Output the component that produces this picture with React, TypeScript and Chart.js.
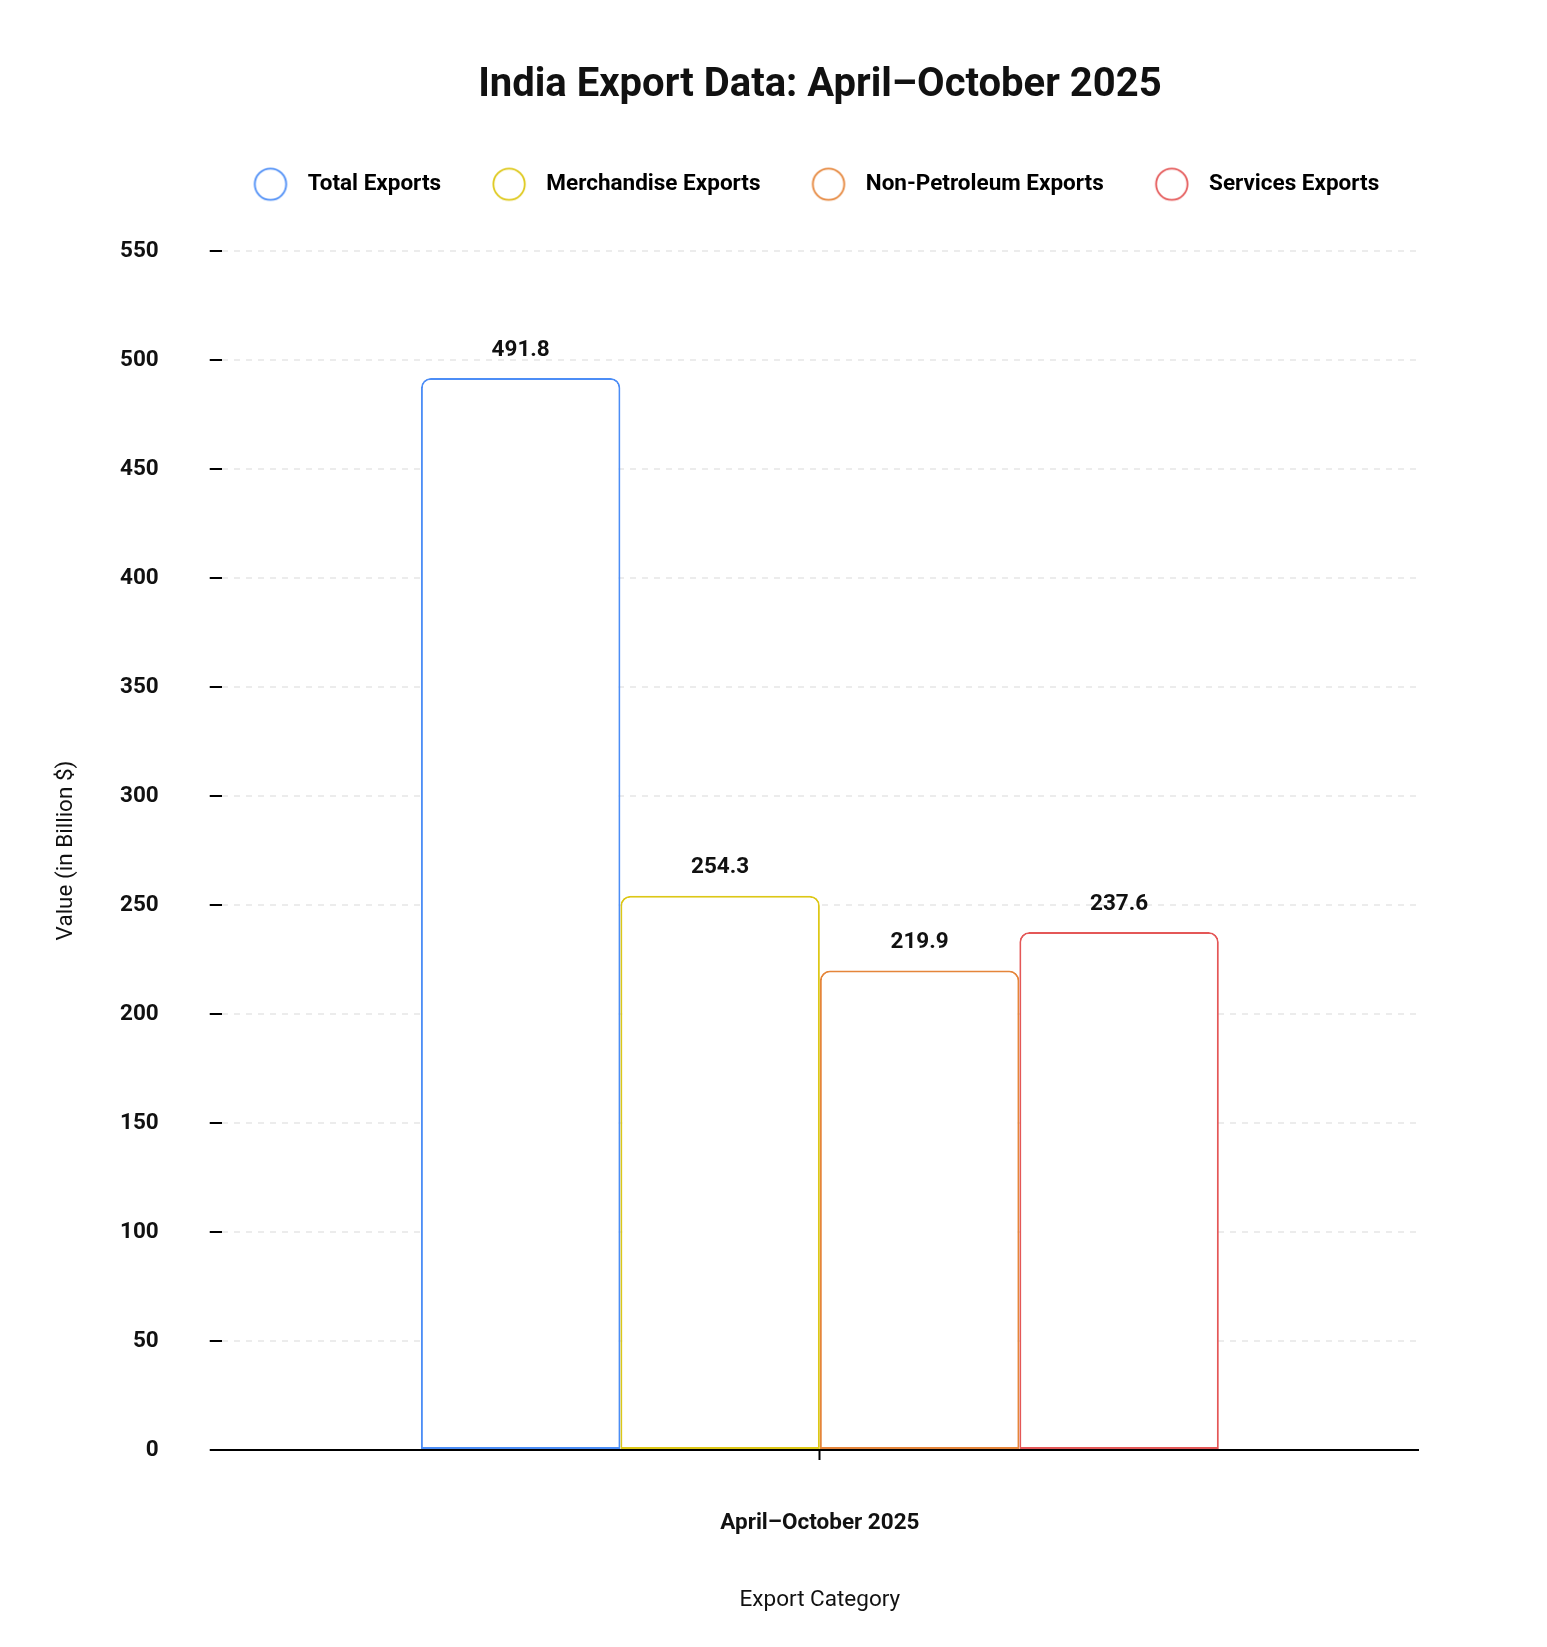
import { useEffect, useRef } from 'react';
import { Chart, registerables } from 'chart.js';

Chart.register(...registerables);

const categories = ['April–October 2025'];
const seriesNames = ['Total Exports', 'Merchandise Exports', 'Non-Petroleum Exports', 'Services Exports'];
const seriesValues = [491.8, 254.3, 219.9, 237.6];
const seriesColors = ['#4C8DF6', '#DDC716', '#E5853A', '#E45757'];
const yMax = 550;
const yStep = 50;

const FONT = 'Roboto';
const TEXT = 22.5;

// hollow circle used as the legend marker
function circleIcon(color: string) {
    const c = document.createElement('canvas');
    c.width = 36;
    c.height = 36;
    const ctx = c.getContext('2d')!;
    ctx.strokeStyle = color;
    ctx.lineWidth = 1.8;
    ctx.beginPath();
    ctx.arc(18, 18, 15.7, 0, Math.PI * 2);
    ctx.stroke();
    return c;
}

// values printed above each bar
const valueLabels = {
    id: 'valueLabels',
    afterDatasetsDraw(chart: any) {
        const { ctx } = chart;
        ctx.save();
        ctx.font = `bold ${TEXT}px ${FONT}`;
        ctx.fillStyle = '#111';
        ctx.textAlign = 'center';
        ctx.textBaseline = 'middle';
        chart.data.datasets.forEach((ds: any, i: number) => {
            const meta = chart.getDatasetMeta(i);
            if (meta.hidden) return;
            meta.data.forEach((bar: any, j: number) => {
                ctx.fillText(String(ds.data[j]), bar.x, bar.y - 28);
            });
        });
        ctx.restore();
    },
};

// keep the legend on one row and leave space between it and the plot
const legendGap = {
    id: 'legendGap',
    beforeInit(chart: any) {
        const legend = chart.legend;
        const origFit = legend.fit;
        const origDraw = legend.draw;
        legend.fit = function fit() {
            const mw = this.maxWidth;
            this.maxWidth = mw + 120;
            origFit.call(this);
            this.maxWidth = mw;
            this.width = Math.min(this.width, mw);
            this.height += 45.5;
        };
        legend.draw = function draw() {
            const { left, right } = this;
            this.left = left - 68;
            this.right = right + 52;
            origDraw.call(this);
            this.left = left;
            this.right = right;
        };
    },
};

export default function App() {
    const canvasRef = useRef<HTMLCanvasElement | null>(null);
    const chartRef = useRef<Chart | null>(null);

    useEffect(() => {
        if (!canvasRef.current) return;
        chartRef.current?.destroy();
        const icons = seriesColors.map(circleIcon);
        chartRef.current = new Chart(canvasRef.current, {
            type: 'bar',
            data: {
                labels: categories,
                datasets: seriesNames.map((name, i) => ({
                    label: name,
                    data: [seriesValues[i]],
                    backgroundColor: '#ffffff',
                    borderColor: seriesColors[i],
                    borderWidth: 2,
                    borderRadius: { topLeft: 10, topRight: 10, bottomLeft: 0, bottomRight: 0 },
                    borderSkipped: false,
                    categoryPercentage: 0.667,
                    barPercentage: 1,
                })),
            },
            options: {
                responsive: true,
                maintainAspectRatio: false,
                animation: false,
                layout: { padding: { top: 0, right: 121, bottom: 5, left: 0 } },
                plugins: {
                    title: {
                        display: true,
                        text: 'India Export Data: April–October 2025',
                        fullSize: false,
                        color: '#111',
                        font: { family: FONT, size: 40, weight: 'bold' },
                        padding: { top: 54, bottom: 21 },
                    },
                    legend: {
                        fullSize: false,
                        labels: {
                            usePointStyle: true,
                            pointStyleWidth: 52,
                            padding: 42,
                            color: '#111',
                            font: { family: FONT, size: TEXT, weight: 'bold' },
                            generateLabels: (chart: any) =>
                                chart.data.datasets.map((ds: any, i: number) => ({
                                    text: ds.label,
                                    fillStyle: 'transparent',
                                    strokeStyle: seriesColors[i],
                                    lineWidth: 0,
                                    pointStyle: icons[i],
                                    hidden: !chart.isDatasetVisible(i),
                                    datasetIndex: i,
                                })),
                        },
                    },
                    tooltip: { enabled: false },
                },
                scales: {
                    x: {
                        grid: {
                            display: true,
                            drawOnChartArea: false,
                            offset: false,
                            tickLength: 10,
                            tickColor: '#000',
                            tickWidth: 2,
                        },
                        border: { display: true, color: '#000', width: 2 },
                        ticks: {
                            padding: 50,
                            color: '#111',
                            font: { family: FONT, size: TEXT, weight: 'bold' },
                        },
                        title: {
                            display: true,
                            text: 'Export Category',
                            color: '#111',
                            font: { family: FONT, size: TEXT },
                            padding: { top: 0, bottom: 20 },
                        },
                    },
                    y: {
                        min: 0,
                        max: yMax,
                        ticks: {
                            stepSize: yStep,
                            padding: 51,
                            color: '#111',
                            font: { family: FONT, size: TEXT, weight: 'bold' },
                        },
                        grid: {
                            color: '#ececec',
                            lineWidth: 2,
                            tickLength: 12,
                            tickColor: '#000',
                            tickWidth: 2,
                        },
                        border: { display: false, dash: [6, 6] },
                        title: {
                            display: true,
                            text: 'Value (in Billion $)',
                            color: '#111',
                            font: { family: FONT, size: TEXT },
                            padding: { top: 45, bottom: -11 },
                        },
                    },
                },
            },
            plugins: [valueLabels, legendGap],
        } as any);
        return () => chartRef.current?.destroy();
    }, []);

    return (
        <div style={{ position: 'relative', height: 1631 }}>
            <canvas ref={canvasRef} />
        </div>
    );
}
